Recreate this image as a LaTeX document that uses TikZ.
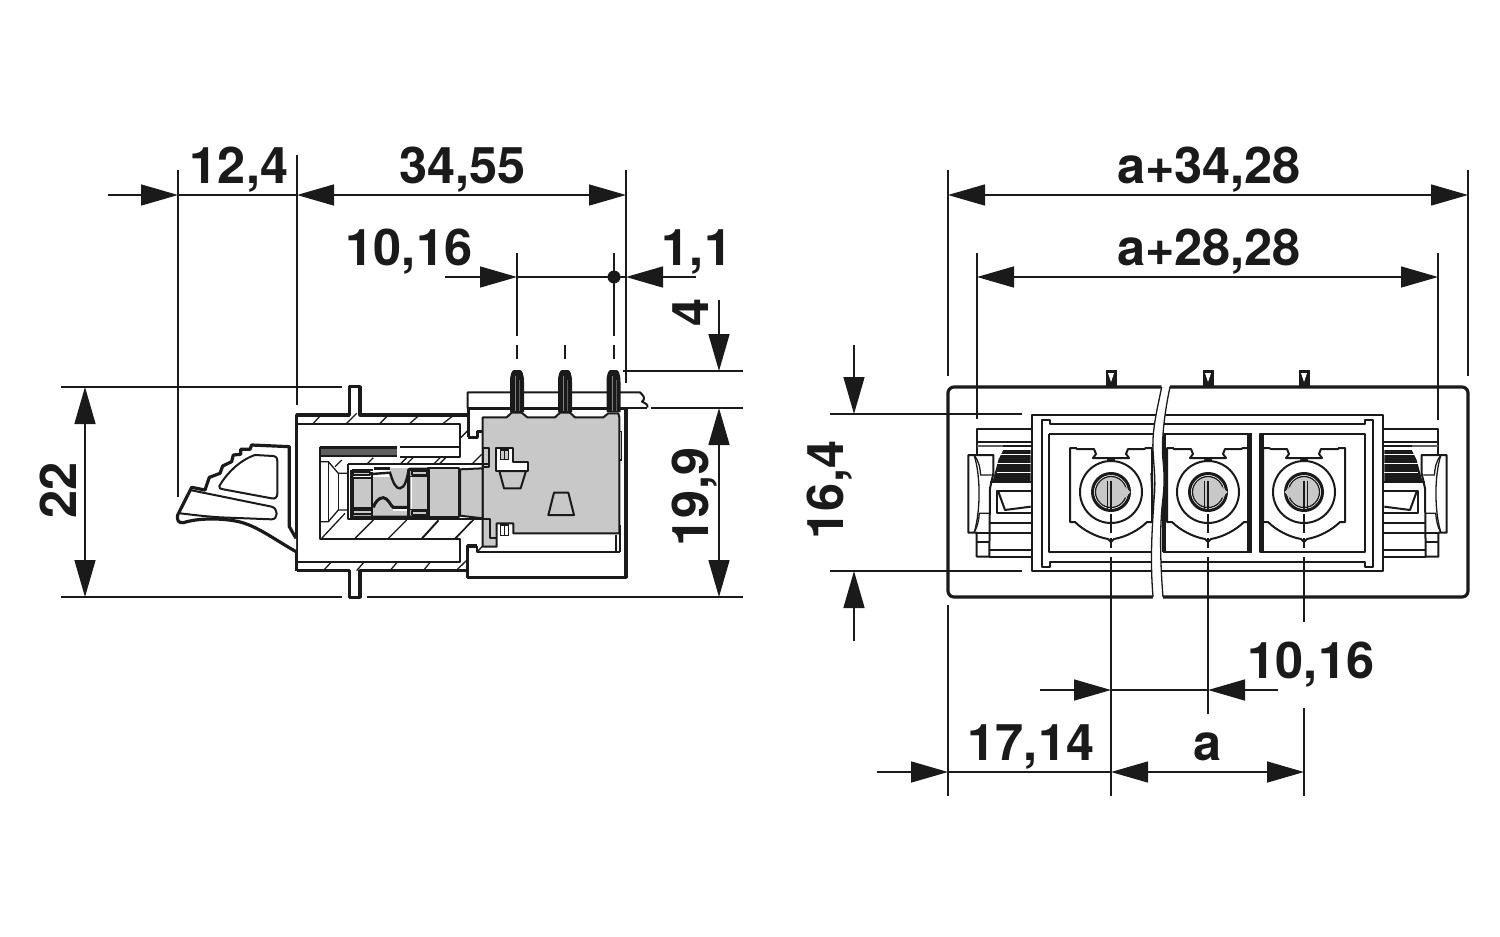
\documentclass[tikz,border=0pt]{standalone}
\usepackage{fontspec}
\setmainfont{TeX Gyre Heros}
\usetikzlibrary{arrows.meta}
\definecolor{partgray}{HTML}{C8C8C8}
\definecolor{ink}{HTML}{1A1A1A}
\tikzset{
  dimline/.style={draw=ink,line width=1.5pt},
  thin part/.style={draw=ink,line width=1.3pt},
  mid part/.style={draw=ink,line width=2pt,line join=round},
  thick part/.style={draw=ink,line width=3.2pt,line join=round},
  grayfill/.style={fill=partgray},
  lbl/.style={font=\fontsize{50.5}{50.5}\selectfont\bfseries,text=ink,inner sep=0pt},
  tipa/.tip={Triangle[length=37pt,width=21pt,color=ink]},
  zoomA/.style={shift={(170,360)},x=0.33333pt,y=-0.33333pt},
  zoomB/.style={shift={(400,360)},x=0.33333pt,y=-0.33333pt},
  zoomC/.style={shift={(940,360)},x=0.33333pt,y=-0.33333pt},
  zoomD/.style={shift={(1230,360)},x=0.33333pt,y=-0.33333pt},
  zoomE/.style={shift={(310,430)},x=0.33333pt,y=-0.33333pt},
}
% terminal with screw, origin at screw centre
\newcommand{\terminalcell}[2]{%
\begin{scope}[shift={(#1,492)}]
\begin{scope}[xscale=#2]
\draw[mid part] (-41,-44)--(-35,-44)--(-34,-43)--(-17,-43)--(-15,-38)--(-18,-34)--(18,-34)--(15,-38)--(17,-43)--(33,-43)--(35,-44)--(41,-44)--(41,30)--(36,30)
  .. controls (28,38) and (15,45) .. (3,47)--(0,50)--(-3,47) .. controls (-15,45) and (-28,38) .. (-36,30)--(-41,30)--cycle;
\fill[ink] (-5,-34) arc (180:0:5 and 2.5)--cycle;
\draw[mid part] (0,0) circle (31);
\fill[partgray] (0,0) circle (16);
\draw[ink,line width=3pt] (0,0) circle (18.5);
\draw[ink,line width=1.2pt] (0,0) circle (15.5);
\fill[partgray] (14,-5)--(19.5,0)--(14,6)--cycle;
\draw[thin part] (-3.5,-11)--(-3.5,17);
\end{scope}
\draw[thin part] (0,-11)--(0,17);
\draw[dimline] (0,22)--(0,41);
\draw[dimline] (0,46)--(0,56);
\end{scope}}
% side latch of the right-hand view
\newcommand{\flankpart}{%
\begin{scope}[zoomC]
\draw[mid part] (272,208)--(110,208)--(110,285);
\draw[mid part] (110,245)--(272,245);
\draw[draw=ink!70,line width=2.4pt] (110,258)--(190,258);
\draw[thin part] (190,258)--(272,258);
\fill[ink] (190,270)--(272,270)--(272,363)--(158,363)--(175,300)--cycle;
\foreach \yy in {283,310,337}{\draw[white,line width=.8pt] (172,\yy)--(272,\yy);}
\draw[mid part,fill=white] (85,285)--(160,285)--(160,340)--(150,385)--(148,590)--(110,590)--(110,518)--(85,518)--cycle;
\draw[thin part] (103,287) .. controls (122,350) and (122,450) .. (103,516);
\draw[thin part] (103,287) .. controls (118,305) and (120,325) .. (122,345)--(155,345);
\draw[thin part] (103,516) .. controls (113,500) and (116,480) .. (118,460)--(148,460);
\draw[mid part] (110,520)--(148,520) (110,545)--(148,545);
\draw[mid part] (150,365)--(272,365) (272,490)--(148,490) (272,520)--(148,520) (272,570)--(148,570) (272,590)--(148,590);
\draw[mid part] (272,392)--(170,392)--(170,458)--(272,458);
\draw[mid part] (175,395)--(195,450)--(272,440);
\end{scope}}
\begin{document}
\begin{tikzpicture}[x=1pt,y=-1pt]
\useasboundingbox (0,0) rectangle (1500,937);
\fill[white] (0,0) rectangle (1500,937);

%% ---------- LEFT VIEW ----------
% extension lines
\draw[dimline] (178,170)--(178,497);
\draw[dimline] (297,155)--(297,405);
\draw[dimline] (626,170)--(626,383);
\draw[dimline] (517,253)--(517,336) (517,345)--(517,359);
\draw[dimline] (565,345)--(565,359);
\draw[dimline] (614,253)--(614,336) (614,345)--(614,359);
\draw[dimline] (61,387)--(342,387);
\draw[dimline] (61,597)--(342,597) (367,597)--(743,597);
\draw[dimline] (623,371)--(743,371);
\draw[dimline] (651,408)--(743,408);
% dimension lines
\draw[dimline,-{tipa}] (108,195)--(178,195);
\draw[dimline] (178,195)--(297,195);
\draw[dimline,{tipa}-{tipa}] (297,195)--(626,195);
\draw[dimline,-{tipa}] (445,277)--(517,277);
\draw[dimline] (517,277)--(614,277);
\fill[ink] (614,277) circle (6.5);
\draw[dimline,-{tipa}] (696,277)--(626,277);
\draw[dimline] (626,277)--(614,277);
\draw[dimline,-{tipa}] (719,300)--(719,371);
\draw[dimline,{tipa}-{tipa}] (719,408)--(719,597);
\draw[dimline,{tipa}-{tipa}] (85,387)--(85,597);
% labels
\node[lbl,anchor=base] (l124) at (239,183) {12,4};
\node[lbl,anchor=base] (l3455) at (462.5,183) {34,55};
\node[lbl,anchor=base] (l1016a) at (409,265) {10,16};
\node[lbl,anchor=base] (l11) at (697,265) {1,1};
\node[lbl,anchor=base,rotate=90] (l4) at (708,312) {4};
\node[lbl,anchor=base,rotate=90] (l199) at (708,497) {19,9};
\node[lbl,anchor=base,rotate=90] (l22) at (76,490) {22};

% housing
\begin{scope}[zoomA]
\draw[thick part] (380,632)--(380,165)--(538,165)--(538,80)--(570,80)--(570,165)--(700,165);
\draw[thick part] (380,632)--(538,632)--(538,712)--(570,712)--(570,632)--(700,632);
\draw[mid part] (380,192)--(720,192);
\draw[mid part] (380,605)--(720,605);
% latch
\draw[thick part,fill=white] (378,575) .. controls (300,530) and (250,490) .. (190,482) .. controls (130,472) and (70,478) .. (40,488) .. controls (25,490) and (20,480) .. (23,465)
  --(65,382)--(105,390)--(118,352)--(150,340)--(158,318)--(185,305)--(190,285)--(212,283)--(212,268)--(240,268)--(245,255)--(358,260)--(358,500)--(378,535);
\draw[mid part] (148,378) .. controls (170,340) and (210,300) .. (255,285)--(310,288) .. controls (320,290) and (322,295) .. (322,305)--(322,400) .. controls (322,412) and (315,418) .. (305,415)--(160,388) .. controls (150,386) and (146,384) .. (148,378)--cycle;
\draw[mid part] (60,390)--(305,440) .. controls (325,445) and (325,478) .. (305,478)--(150,472) .. controls (90,468) and (50,462) .. (30,460);
% hatch
\draw[thin part] (430,190)--(450,168) (530,190)--(560,160) (630,190)--(652,168);
\draw[thin part] (460,632)--(485,605) (560,632)--(583,605) (660,632)--(683,605);
\end{scope}

\begin{scope}[zoomB]
% gray insert
\draw[mid part,grayfill] (248,172)--(320,172)--(335,158)--(365,158)--(382,172)--(465,172)--(480,158)--(510,158)--(525,172)--(610,172)--(625,160)--(655,160)--(658,172)--(658,520)--(340,520)--(340,490)--(290,490)--(290,560)--(248,560)--cycle;
\draw[mid part,fill=white] (288,265)--(340,265)--(340,305)--(385,305)--(385,333)--(288,333)--cycle;
\draw[thin part,grayfill] (302,270) rectangle (325,298);
\draw[thin part] (314,270)--(314,298);
\draw[mid part,grayfill] (298,333)--(378,333)--(362,385)--(312,385)--cycle;
\draw[mid part,grayfill] (462,398)--(505,398)--(522,465)--(445,465)--cycle;
\draw[mid part,grayfill] (248,265)--(268,265)--(268,322)--(248,322)--cycle;
\draw[mid part] (248,478)--(270,478)--(270,535)--(290,535);
\draw[thin part,fill=white] (302,495) rectangle (325,527);
\draw[thin part] (314,495)--(314,527);
\draw[thin part] (660,215)--(665,215)--(665,300)--(660,300);
\draw[thin part] (660,495)--(660,577) (648,525)--(648,577);
% outer shell
\draw[mid part] (203,145)--(203,97)--(330,97) (370,97)--(478,97) (516,97)--(622,97) (660,97)--(720,97) .. controls (735,110) and (735,118) .. (726,125) .. controls (735,130) and (745,132) .. (742,143);
\draw[thick part] (205,232)--(205,145)--(330,145) (370,145)--(478,145) (516,145)--(622,145);
\draw[thick part] (660,145)--(678,145)--(678,652)--(203,652)--(203,558)--(232,558);
\draw[mid part] (660,143)--(742,143);
\draw[mid part] (232,558)--(232,577)--(660,577);
\draw[thick part] (205,232)--(232,232)--(232,215)--(248,215);
% walls
\draw[thick part] (0,165)--(205,165);
\draw[mid part] (0,192)--(180,192)--(180,262)--(0,262);
\draw[mid part] (0,290)--(180,290)--(180,262);
\draw[mid part] (0,538)--(180,538)--(180,605)--(0,605);
\draw[thick part] (0,632)--(203,632);
\draw[thin part] (30,190)--(55,168) (130,190)--(158,168) (180,235)--(203,212);
\draw[thin part] (70,632)--(92,605) (168,632)--(203,598);
\draw[thin part] (218,310)--(245,283) (232,575)--(248,558);
\draw[thin part] (65,538)--(115,483) (165,538)--(215,483);
\draw[thin part] (20,312)--(40,292) (118,312)--(138,292);
% plug
\draw[mid part] (-100,313)--(268,313);
\draw[mid part,grayfill] (85,325)--(178,325)--(178,470)--(85,470)--cycle;
\draw[mid part,grayfill] (180,328)--(248,325)--(248,475)--(180,467)--cycle;
\end{scope}

% pins
\foreach \px in {517,565,613.5}{
\begin{scope}[shift={(\px,0)}]
\fill[ink] (-7,412)--(-7,382) .. controls (-7,374) and (-5,370) .. (-3,370)--(3,370) .. controls (5,370) and (7,374) .. (7,382)--(7,412)--cycle;
\draw[ink!55,line width=.9pt] (-1.5,376)--(-1.5,411);
\draw[ink!70,line width=.6pt] (2.5,380)--(2.5,411);
\end{scope}}

% inner cavity and contact
\begin{scope}[zoomE]
\draw[thick part] (30,52)--(260,52);
\fill[ink!70] (30,56) rectangle (260,78);
\draw[mid part] (30,78)--(260,78);
\draw[mid part] (30,52)--(30,326)--(440,326);
\draw[thin part] (30,95)--(55,95)--(85,130)--(115,130);
\draw[thin part] (30,275)--(55,275)--(85,240)--(115,240);
\draw[thin part] (55,95)--(55,275) (85,130)--(85,240);
\draw[mid part] (115,103)--(515,103) (115,103)--(115,268)--(515,268);
\draw[thin part] (35,325)--(105,250) (135,325)--(190,270) (235,325)--(290,270) (335,325)--(385,270) (435,325)--(490,270);
\draw[thin part] (75,110)--(95,90) (170,103)--(190,83) (270,103)--(290,83) (370,103)--(390,83);
% contact
\fill[partgray] (190,115) rectangle (296,260);
\fill[white] (190,112) rectangle (240,140);
\fill[ink] (192,112)--(240,112)--(240,120)--(192,120)--cycle;
\draw[line width=2.4pt,draw=ink] (185,132)--(240,128) .. controls (250,160) and (258,176) .. (270,175) .. controls (285,172) and (290,150) .. (296,120);
\draw[line width=3pt,draw=ink] (190,232) .. controls (195,218) and (205,203) .. (220,203) .. controls (235,205) and (240,225) .. (250,232)--(296,232);
\fill[white] (250,238) rectangle (296,244);
\draw[mid part,grayfill] (130,125)--(180,125)--(180,135)--(130,135)--cycle;
\draw[mid part,grayfill] (130,240)--(185,240)--(185,252)--(130,252)--cycle;
\draw[mid part,grayfill] (128,145)--(185,145)--(185,235)--(128,235)--cycle;
\draw[thick part] (125,120)--(125,262)--(355,262)--(355,118)--(300,118)--(296,120)--(296,262);
\draw[line width=2.2pt,draw=ink] (125,120)--(190,120);
\draw[mid part,grayfill] (306,122)--(350,122)--(350,135)--(306,135)--cycle;
\draw[mid part,grayfill] (306,242)--(350,242)--(350,254)--(306,254)--cycle;
\fill[partgray] (306,140) rectangle (350,238);
\draw[thin part] (300,140)--(352,140) (300,238)--(352,238);
\draw[line width=2.2pt,draw=ink] (187,125)--(187,262);
\end{scope}

%% ---------- RIGHT VIEW ----------
\draw[dimline] (948,170)--(948,376) (948,605)--(948,796);
\draw[dimline] (1468,170)--(1468,376);
\draw[dimline] (977,253)--(977,419);
\draw[dimline] (1438,253)--(1438,420);
\draw[dimline] (830,414)--(1022,414) (830,571)--(1022,571);
\draw[dimline] (1111,557)--(1111,796);
\draw[dimline] (1208,557)--(1208,714);
\draw[dimline] (1304,557)--(1304,622) (1304,708)--(1304,796);
\draw[dimline,{tipa}-{tipa}] (948,195)--(1468,195);
\draw[dimline,{tipa}-{tipa}] (977,277)--(1438,277);
\draw[dimline,-{tipa}] (854,345)--(854,414);
\draw[dimline,-{tipa}] (854,641)--(854,571);
\draw[dimline,-{tipa}] (1040,690)--(1111,690);
\draw[dimline] (1111,690)--(1208,690);
\draw[dimline,-{tipa}] (1278,690)--(1208,690);
\draw[dimline,-{tipa}] (877,772)--(948,772);
\draw[dimline] (948,772)--(1111,772);
\draw[dimline,{tipa}-{tipa}] (1111,772)--(1304,772);
\node[lbl,anchor=base] (ra) at (1209,183) {a+34,28};
\node[lbl,anchor=base] (rb) at (1209,265) {a+28,28};
\node[lbl,anchor=base] (rc) at (1311,678) {10,16};
\node[lbl,anchor=base] (rd) at (1031,760) {17,14};
\node[lbl,anchor=base] (re) at (1208,760) {a};
\node[lbl,anchor=base,rotate=90] (rf) at (843,490) {16,4};

% top pins
\foreach \px in {1111,1208,1304}{
\begin{scope}[shift={(\px,0)}]
\fill[ink] (-5.5,387)--(-5.5,370)--(5.5,370)--(5.5,387)--cycle;
\fill[white] (-3,373)--(3,373)--(0,382)--cycle;
\end{scope}}
% outer body
\draw[thick part,rounded corners=6pt] (948,597) rectangle (1468,387);
% flanks
\flankpart
\begin{scope}[shift={(2415,0)},xscale=-1]\flankpart\end{scope}
% frame
\draw[mid part] (1032,415) rectangle (1383,571);
\draw[mid part] (1050,424)--(1050,420)--(1042,420)--(1042,567)--(1050,567)--(1050,562)--(1365,562)--(1365,567)--(1373,567)--(1373,420)--(1365,420)--(1365,424)--cycle;
% cells
\draw[mid part] (1049,434)--(1153,434) (1049,434)--(1049,552)--(1153,552);
\draw[mid part] (1163,434)--(1252,434) (1163,552)--(1252,552);
\fill[ink] (1162,434) rectangle (1166,552);
\fill[ink] (1247,434) rectangle (1252,552);
\draw[mid part] (1260,434)--(1365,434)--(1365,552)--(1260,552)--cycle;
\fill[ink] (1260,434) rectangle (1264,552);
\terminalcell{1111}{1}
\terminalcell{1208}{1}
\terminalcell{1304}{-1}
% break
\fill[white] (1161.7,385) .. controls (1157,410) and (1152,430) .. (1153,450) .. controls (1154,470) and (1156,480) .. (1154,500) .. controls (1152,530) and (1150,560) .. (1153,599)
  --(1163,599) .. controls (1160,560) and (1160,530) .. (1162,507) .. controls (1164,490) and (1165,480) .. (1163,460) .. controls (1161,440) and (1165,410) .. (1170,385)--cycle;
\draw[thin part] (1161.7,387) .. controls (1157,410) and (1152,430) .. (1153,450) .. controls (1154,470) and (1156,480) .. (1154,500) .. controls (1152,530) and (1150,560) .. (1153,597);
\draw[thin part] (1170,387) .. controls (1165,410) and (1161,440) .. (1163,460) .. controls (1165,480) and (1164,490) .. (1162,507) .. controls (1160,530) and (1160,560) .. (1163,597);
\draw[ink,line width=2.2pt] (1151.5,473)--(1153,510);
\end{tikzpicture}
\end{document}
